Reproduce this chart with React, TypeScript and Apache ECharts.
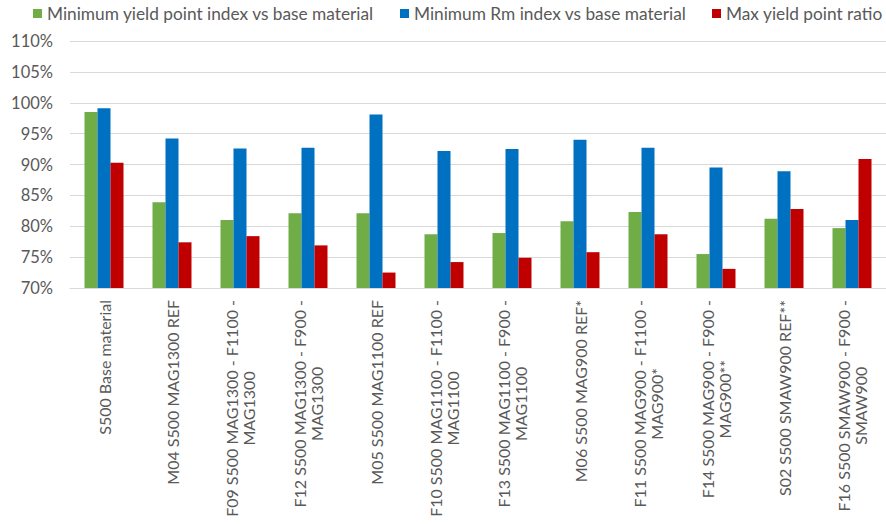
import React, { useEffect, useRef } from "react";
import * as echarts from "echarts";

const categories: string[] = [
  "S500 Base material",
  "M04 S500 MAG1300 REF",
  "F09 S500 MAG1300 - F1100 -\nMAG1300",
  "F12 S500 MAG1300 - F900 -\nMAG1300",
  "M05 S500 MAG1100 REF",
  "F10 S500 MAG1100 - F1100 -\nMAG1100",
  "F13 S500 MAG1100 - F900 -\nMAG1100",
  "M06 S500 MAG900 REF*",
  "F11 S500 MAG900 - F1100 -\nMAG900*",
  "F14 S500 MAG900 - F900 -\nMAG900**",
  "S02 S500 SMAW900 REF**",
  "F16 S500 SMAW900 - F900 -\nSMAW900",
];

const seriesNames: string[] = [
  "Minimum yield point index vs base material",
  "Minimum Rm index vs base material",
  "Max yield point ratio",
];

const minYieldIndex: number[] = [98.5, 83.9, 81.0, 82.1, 82.1, 78.7, 78.9, 80.8, 82.3, 75.5, 81.2, 79.7];
const minRmIndex: number[] = [99.1, 94.2, 92.6, 92.7, 98.1, 92.2, 92.5, 94.0, 92.7, 89.5, 88.9, 81.0];
const maxYieldRatio: number[] = [90.3, 77.4, 78.4, 76.9, 72.5, 74.2, 74.9, 75.8, 78.7, 73.1, 82.8, 90.9];

const colors: string[] = ["#70AD47", "#0070C0", "#C00000"];

const FONT = "Lato, 'Open Sans', sans-serif";
const TEXT = "#595959";

export default function App() {
  const ref = useRef<HTMLDivElement>(null);
  useEffect(() => {
    if (!ref.current) return;
    const chart = echarts.init(ref.current, undefined, { renderer: "svg" });
    const legendLefts = [33, 400, 712];
    chart.setOption({
      animation: false,
      backgroundColor: "#ffffff",
      textStyle: { fontFamily: FONT },
      legend: seriesNames.map((n, i) => ({
        left: legendLefts[i],
        top: 5,
        padding: 0,
        itemWidth: 9,
        itemHeight: 9,
        itemGap: 0,
        icon: "rect",
        textStyle: { fontSize: 17.3, color: TEXT, fontFamily: FONT },
        data: [n],
      })),
      grid: {
        left: 70,
        right: 0,
        top: 41,
        bottom: 236,
        containLabel: false,
        outerBoundsMode: "none",
      },
      xAxis: {
        type: "category",
        data: categories,
        axisLine: { lineStyle: { color: "#d9d9d9" } },
        axisTick: { show: false },
        axisLabel: {
          interval: 0,
          rotate: 90,
          margin: 12,
          formatter: (v: string) =>
            v
              .split("\n")
              .map((l) => `{c|${l}}`)
              .join("\n"),
          rich: {
            c: {
              align: "center",
              fontSize: 16,
              lineHeight: 17,
              color: TEXT,
              fontFamily: FONT,
            },
          },
        },
      },
      yAxis: {
        type: "value",
        min: 70,
        max: 110,
        interval: 5,
        axisLine: { show: false },
        axisTick: { show: false },
        axisLabel: {
          formatter: "{value}%",
          fontSize: 16.5,
          color: TEXT,
          margin: 17,
          fontFamily: FONT,
        },
        splitLine: { lineStyle: { color: "#d9d9d9" } },
      },
      series: [minYieldIndex, minRmIndex, maxYieldRatio].map((d, i) => ({
        name: seriesNames[i],
        type: "bar",
        data: d,
        barWidth: 13,
        barGap: "0%",
        itemStyle: { color: colors[i] },
      })),
    });
    return () => chart.dispose();
  }, []);
  return (
    <div
      ref={ref}
      style={{ position: "fixed", left: 0, top: 0, width: 886, height: 524 }}
    />
  );
}
